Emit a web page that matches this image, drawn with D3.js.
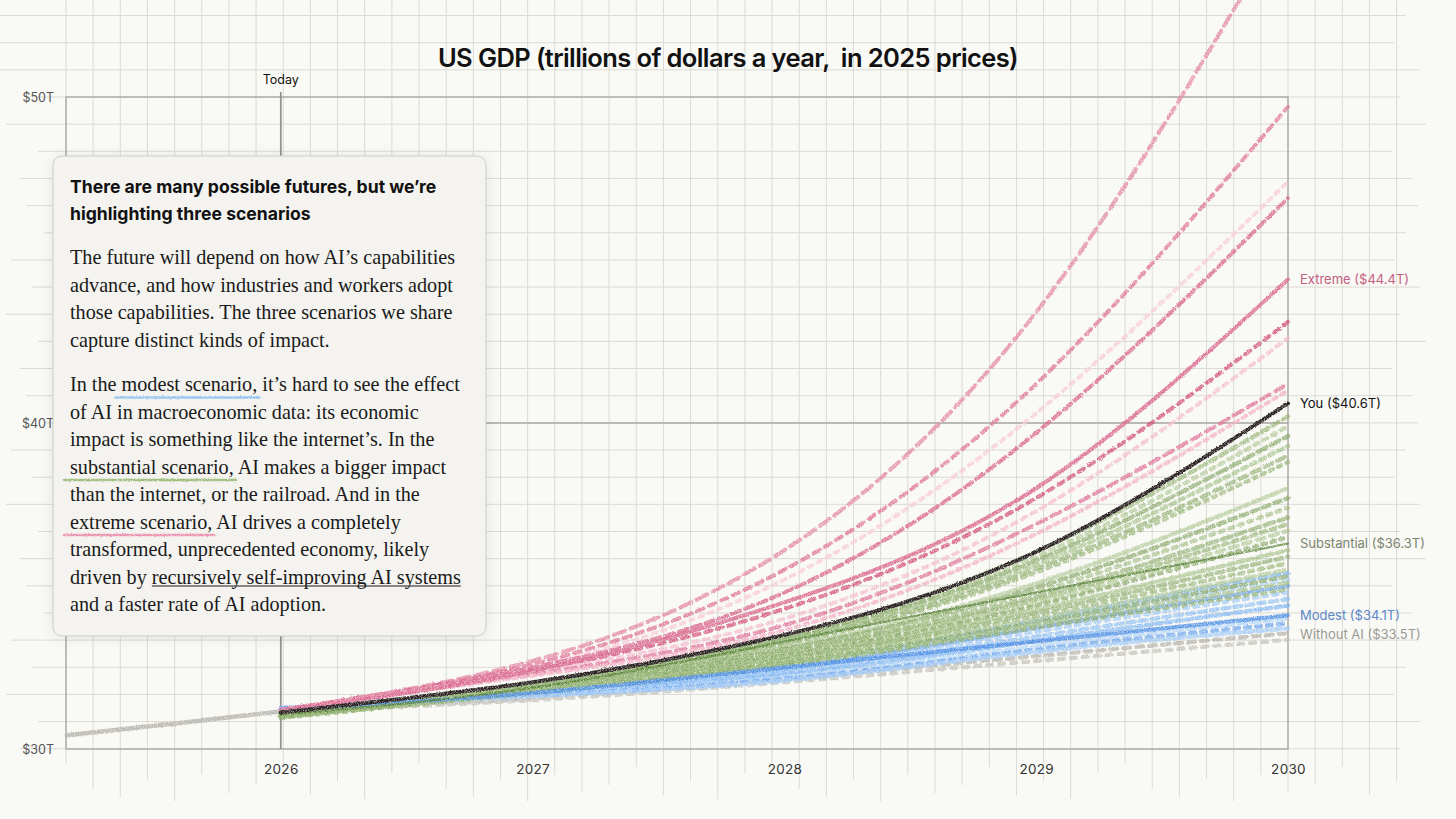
<!DOCTYPE html>
<html>
<head>
<meta charset="utf-8">
<script src="https://cdn.jsdelivr.net/npm/d3@7"></script>
<style>
  body { margin: 0; background: #f9f9f6; }
  svg { display: block; }
</style>
</head>
<body>
<div id="chart"></div>
<script>
// values, trillions of 2025 dollars
const years = [2026, 2027, 2028, 2029, 2030];
const historyYears = [2025.15, 2025.6, 2026];
const historyValues = [30.42, 30.80, 31.15];

const withoutAIRuns = [
  [31.15, 31.55, 32.15, 32.85, 33.55],
  [31.15, 31.50, 32.05, 32.70, 33.35]
];

const modestRuns = [
  [31.25, 31.78, 32.55, 33.95, 35.40],
  [31.25, 31.76, 32.50, 33.85, 35.20],
  [31.25, 31.74, 32.45, 33.72, 35.00],
  [31.20, 31.72, 32.40, 33.60, 34.80],
  [31.20, 31.70, 32.34, 33.45, 34.60],
  [31.20, 31.68, 32.28, 33.32, 34.40],
  [31.20, 31.66, 32.20, 33.15, 34.00],
  [31.20, 31.64, 32.15, 33.05, 33.85],
  [31.20, 31.62, 32.10, 32.98, 33.70]
];
const modestMain = [31.20, 31.72, 32.50, 33.30, 34.10];

const substantialRuns = [
  [31.10, 32.00, 33.45, 36.05, 40.20],
  [31.10, 31.99, 33.40, 35.90, 39.90],
  [31.10, 31.98, 33.36, 35.78, 39.60],
  [31.05, 31.97, 33.31, 35.65, 39.30],
  [31.05, 31.96, 33.26, 35.52, 39.00],
  [31.05, 31.95, 33.21, 35.42, 38.80],
  [31.05, 31.93, 33.12, 35.08, 38.00],
  [31.05, 31.92, 33.07, 34.95, 37.70],
  [31.05, 31.90, 33.02, 34.82, 37.40],
  [31.00, 31.88, 32.97, 34.68, 37.10],
  [31.00, 31.87, 32.93, 34.58, 36.90],
  [31.00, 31.86, 32.89, 34.48, 36.70],
  [31.00, 31.85, 32.86, 34.40, 36.50],
  [31.00, 31.83, 32.80, 34.28, 36.10],
  [31.00, 31.81, 32.76, 34.18, 35.90],
  [31.00, 31.80, 32.72, 34.08, 35.70],
  [31.00, 31.78, 32.68, 33.98, 35.50],
  [30.98, 31.76, 32.64, 33.88, 35.30],
  [30.98, 31.74, 32.60, 33.80, 35.10],
  [30.95, 31.72, 32.56, 33.72, 34.90]
];
const substantialMain = [31.05, 31.88, 33.30, 34.80, 36.30];

const extremeRuns = [
  [31.20, 32.70, 36.10, 43.40, 55.50],
  [31.20, 32.60, 35.50, 41.20, 49.70],
  [31.20, 32.50, 35.20, 40.30, 47.40],
  [31.20, 32.50, 34.80, 39.70, 46.90],
  [31.20, 32.40, 34.30, 37.70, 43.10],
  [31.20, 32.35, 34.00, 37.30, 42.60],
  [31.20, 32.30, 33.80, 36.90, 41.20],
  [31.20, 32.25, 33.65, 36.60, 41.00]
];
const extremeMain = [31.20, 32.40, 34.50, 38.00, 44.40];

const youValues = [31.12, 32.05, 33.50, 36.05, 40.60];

const yTicks = [30, 40, 50];
const todayYear = 2026;
const labelNames = ["Extreme", "You", "Substantial", "Modest", "Without AI"];
const labelValues = [44.4, 40.6, 36.3, 34.1, 33.5];

const titleText = "US GDP (trillions of dollars a year,  in 2025 prices)";
const boxHeading = [
  "There are many possible futures, but we\u2019re",
  "highlighting three scenarios"
];
const boxParagraphs = [
  [
    [["The future will depend on how AI\u2019s capabilities"]],
    [["advance, and how industries and workers adopt"]],
    [["those capabilities. The three scenarios we share"]],
    [["capture distinct kinds of impact."]]
  ],
  [
    [["In the "], ["modest scenario,", "modest"], [" it\u2019s hard to see the effect"]],
    [["of AI in macroeconomic data: its economic"]],
    [["impact is something like the internet\u2019s. In the"]],
    [["substantial scenario,", "substantial"], [" AI makes a bigger impact"]],
    [["than the internet, or the railroad. And in the"]],
    [["extreme scenario,", "extreme"], [" AI drives a completely"]],
    [["transformed, unprecedented economy, likely"]],
    [["driven by "], ["recursively self-improving AI systems", "link"]],
    [["and a faster rate of AI adoption."]]
  ]
];

let svgWidth = 1456;
let svgHeight = 819;

let margin = {
  top: 97,
  right: 168,
  bottom: 70,
  left: 66
};

let chartWidth = svgWidth - margin.left - margin.right;
let chartHeight = svgHeight - margin.top - margin.bottom;

let svg = d3.select("#chart")
  .append("svg")
  .attr("width", svgWidth)
  .attr("height", svgHeight);

svg.append("rect")
  .attr("width", svgWidth)
  .attr("height", svgHeight)
  .attr("fill", "#f9f9f6");

let defs = svg.append("defs");

// crayon look for the strokes
let pencil = defs.append("filter")
  .attr("id", "pencil")
  .attr("filterUnits", "userSpaceOnUse")
  .attr("x", 0).attr("y", -300)
  .attr("width", svgWidth).attr("height", svgHeight + 300);
pencil.append("feTurbulence")
  .attr("type", "fractalNoise").attr("baseFrequency", 0.8)
  .attr("numOctaves", 2).attr("seed", 4).attr("result", "wobble");
pencil.append("feDisplacementMap")
  .attr("in", "SourceGraphic").attr("in2", "wobble").attr("scale", 2.6)
  .attr("xChannelSelector", "R").attr("yChannelSelector", "G")
  .attr("result", "moved");
pencil.append("feTurbulence")
  .attr("type", "fractalNoise").attr("baseFrequency", 1.3)
  .attr("numOctaves", 1).attr("seed", 9).attr("result", "grain");
pencil.append("feColorMatrix")
  .attr("in", "grain").attr("type", "matrix")
  .attr("values", "0 0 0 0 0  0 0 0 0 0  0 0 0 0 0  0 0 0 -1.8 1.8")
  .attr("result", "grainAlpha");
pencil.append("feComposite")
  .attr("in", "moved").attr("in2", "grainAlpha").attr("operator", "in");

let shadow = defs.append("filter")
  .attr("id", "shadow")
  .attr("x", "-10%").attr("y", "-10%")
  .attr("width", "120%").attr("height", "120%");
shadow.append("feDropShadow")
  .attr("dx", 0).attr("dy", 1).attr("stdDeviation", 7)
  .attr("flood-color", "#000").attr("flood-opacity", 0.09);

let x = d3.scaleLinear()
  .domain([2025.147, 2030])
  .range([margin.left, margin.left + chartWidth]);

let y = d3.scaleLinear()
  .domain([30, 50])
  .range([margin.top + chartHeight, margin.top]);

// paper grid
let cell = chartWidth / 45;
let downExt = [14, 40, 48, 30, 52, 26, 44, 36, 18, 46, 32, 50, 24];
let leftExt = [40, 22, 55, 34, 60, 28, 46];
let rightExt = [118, 106, 132, 112, 138, 104, 124, 130];

let grid = svg.append("g")
  .attr("stroke", "#dbdad5")
  .attr("stroke-width", 1);

d3.range(0, 50).forEach(function(i) {
  let gx = margin.left + i * cell;
  grid.append("line")
    .attr("x1", gx).attr("x2", gx)
    .attr("y1", 0)
    .attr("y2", margin.top + chartHeight + downExt[i % downExt.length]);
});

d3.range(-3, 25).forEach(function(j) {
  let gy = margin.top + j * cell;
  grid.append("line")
    .attr("x1", j < 0 ? 0 : margin.left - leftExt[(j + 3) % leftExt.length])
    .attr("x2", margin.left + chartWidth + rightExt[(j + 3) % rightExt.length])
    .attr("y1", gy).attr("y2", gy);
});

// frame, $40T rule, today line
svg.append("rect")
  .attr("x", margin.left).attr("y", margin.top)
  .attr("width", chartWidth).attr("height", chartHeight)
  .attr("fill", "none")
  .attr("stroke", "#aaa9a4")
  .attr("stroke-width", 1.4);

svg.append("line")
  .attr("x1", margin.left).attr("x2", margin.left + chartWidth)
  .attr("y1", y(40)).attr("y2", y(40))
  .attr("stroke", "#aaa9a4")
  .attr("stroke-width", 1.4);

svg.append("line")
  .attr("x1", x(todayYear)).attr("x2", x(todayYear))
  .attr("y1", margin.top - 5).attr("y2", margin.top + chartHeight)
  .attr("stroke", "#919089")
  .attr("stroke-width", 1.7);

svg.append("text")
  .attr("x", x(todayYear))
  .attr("y", margin.top - 13)
  .attr("text-anchor", "middle")
  .attr("font-family", "Inter, sans-serif")
  .attr("font-size", "12.5px")
  .attr("fill", "#111")
  .text("Today");

// axes
let bottomAxis = d3.axisBottom(x)
  .tickValues(years)
  .tickFormat(d3.format("d"))
  .tickSize(0)
  .tickPadding(15);

let leftAxis = d3.axisLeft(y)
  .tickValues(yTicks)
  .tickFormat(d => `$${d}T`)
  .tickSize(0)
  .tickPadding(12);

let xAxisG = svg.append("g")
  .attr("transform", `translate(0, ${margin.top + chartHeight})`)
  .call(bottomAxis);
xAxisG.select(".domain").remove();
xAxisG.selectAll("text")
  .attr("font-family", "Inter, sans-serif")
  .attr("font-size", "13.5px")
  .attr("letter-spacing", "0.3px")
  .attr("fill", "#333");

let yAxisG = svg.append("g")
  .attr("transform", `translate(${margin.left}, 0)`)
  .call(leftAxis);
yAxisG.select(".domain").remove();
yAxisG.selectAll("text")
  .attr("font-family", "Inter, sans-serif")
  .attr("font-size", "12.5px")
  .attr("fill", "#555");

// lines
let line = d3.line()
  .x(d => x(d[0]))
  .y(d => y(d[1]))
  .curve(d3.curveNatural);

let toPoints = vals => years.map((yr, i) => [yr, vals[i]]);

let lines = svg.append("g")
  .attr("fill", "none")
  .attr("stroke-linecap", "round")
  .attr("filter", "url(#pencil)");

function drawRuns(runs, colors, dashes, width, opacity) {
  lines.append("g")
    .selectAll("path")
    .data(runs)
    .join("path")
    .attr("d", d => line(toPoints(d)))
    .attr("stroke", (d, i) => colors[i % colors.length])
    .attr("stroke-dasharray", (d, i) => dashes[i % dashes.length])
    .attr("stroke-width", width)
    .attr("stroke-opacity", opacity);
}

lines.append("path")
  .attr("d", line(historyYears.map((yr, i) => [yr, historyValues[i]])))
  .attr("stroke", "#bfbcb5")
  .attr("stroke-width", 4.5);

drawRuns(withoutAIRuns, ["#bcb9b2", "#c9c6bf"], ["7 6", "5 7"], 4.2, 0.9);

drawRuns(modestRuns,
  ["#86b9f2", "#b3d6f8", "#6ea5ee", "#a3cbf6", "#93c2f4"],
  ["8 5", "5 6", "10 4", "4 6", "7 5", "6 4"],
  4.4, 0.8);

drawRuns(substantialRuns,
  ["#93b271", "#abc68f", "#80a25e", "#a0bd82", "#8cad6c"],
  ["7 5", "4 6", "10 5", "5 5", "8 6", "3 6", "6 4"],
  4.4, 0.7);

drawRuns(extremeRuns,
  ["#e48ca9", "#e07a9c", "#f8cdda", "#da6b91", "#d5577f", "#f6c0d2", "#e07a9d", "#f4b3c8"],
  ["12 6", "7 6", "4 6", "9 5", "6 6", "5 6", "10 6", "4 5"],
  4, 0.85);

lines.append("path")
  .attr("d", line(toPoints(modestMain)))
  .attr("stroke", "#4f8fe6")
  .attr("stroke-width", 4)
  .attr("stroke-opacity", 0.85);

lines.append("path")
  .attr("d", line(toPoints(substantialMain)))
  .attr("stroke", "#557f33")
  .attr("stroke-width", 2.2)
  .attr("stroke-opacity", 0.8);

lines.append("path")
  .attr("d", line(toPoints(extremeMain)))
  .attr("stroke", "#dc6f94")
  .attr("stroke-width", 4)
  .attr("stroke-opacity", 0.9);

lines.append("path")
  .attr("d", line(toPoints(youValues)))
  .attr("stroke", "#2a2222")
  .attr("stroke-width", 4);

// end labels
let labelColors = ["#c4607f", "#111111", "#7b8670", "#5a87c8", "#9b9993"];
svg.append("g")
  .selectAll("text")
  .data(labelNames)
  .join("text")
  .attr("x", margin.left + chartWidth + 12)
  .attr("y", (d, i) => y(labelValues[i]))
  .attr("dy", "0.35em")
  .attr("font-family", "Inter, sans-serif")
  .attr("font-size", "13px")
  .attr("fill", (d, i) => labelColors[i])
  .text((d, i) => `${d} ($${labelValues[i]}T)`);

// title
svg.append("text")
  .attr("x", svgWidth / 2)
  .attr("y", 67)
  .attr("text-anchor", "middle")
  .attr("font-family", "Inter, sans-serif")
  .attr("font-size", "25.5px")
  .attr("font-weight", 600)
  .attr("letter-spacing", "-0.6px")
  .style("white-space", "pre")
  .attr("fill", "#111")
  .text(titleText);

// explainer card
let box = { x: 53, y: 156, w: 433, h: 480 };
let card = svg.append("g");

card.append("rect")
  .attr("x", box.x).attr("y", box.y)
  .attr("width", box.w).attr("height", box.h)
  .attr("rx", 9)
  .attr("fill", "#f4f3ef")
  .attr("stroke", "#cbcac5")
  .attr("stroke-width", 1)
  .attr("filter", "url(#shadow)");

card.selectAll(".heading")
  .data(boxHeading)
  .join("text")
  .attr("class", "heading")
  .attr("x", box.x + 17)
  .attr("y", (d, i) => 193 + i * 27)
  .attr("font-family", "Inter, sans-serif")
  .attr("font-size", "17.6px")
  .attr("font-weight", 700)
  .attr("fill", "#111")
  .text(d => d);

let underlineColors = { modest: "#8ec2f2", substantial: "#9dbb7a", extreme: "#ec8fb0" };
let paraTops = [264, 391];
let lineStep = 27.5;
let marks = [];

boxParagraphs.forEach(function(para, p) {
  para.forEach(function(segments, l) {
    let t = card.append("text")
      .attr("x", box.x + 17)
      .attr("y", paraTops[p] + l * lineStep)
      .attr("font-family", "'Liberation Serif', serif")
      .attr("font-size", "20.2px")
      .attr("fill", "#1a1a1a")
      .style("white-space", "pre");
    segments.forEach(function(seg) {
      let span = t.append("tspan").text(seg[0]);
      if (seg[1]) marks.push({ node: span.node(), kind: seg[1], base: paraTops[p] + l * lineStep });
    });
  });
});

marks.forEach(function(m) {
  let start = m.node.getStartPositionOfChar(0).x;
  let len = m.node.getComputedTextLength();
  if (m.kind === "link") {
    card.append("line")
      .attr("x1", start).attr("x2", start + len)
      .attr("y1", m.base + 2.5).attr("y2", m.base + 2.5)
      .attr("stroke", "#1a1a1a")
      .attr("stroke-width", 1.1);
  } else {
    card.append("line")
      .attr("x1", start - 6).attr("x2", start + len + 2)
      .attr("y1", m.base + 6.5).attr("y2", m.base + 6.5)
      .attr("stroke", underlineColors[m.kind])
      .attr("stroke-width", 2.6)
      .attr("stroke-linecap", "round")
      .attr("filter", "url(#pencil)");
  }
});
</script>
</body>
</html>
